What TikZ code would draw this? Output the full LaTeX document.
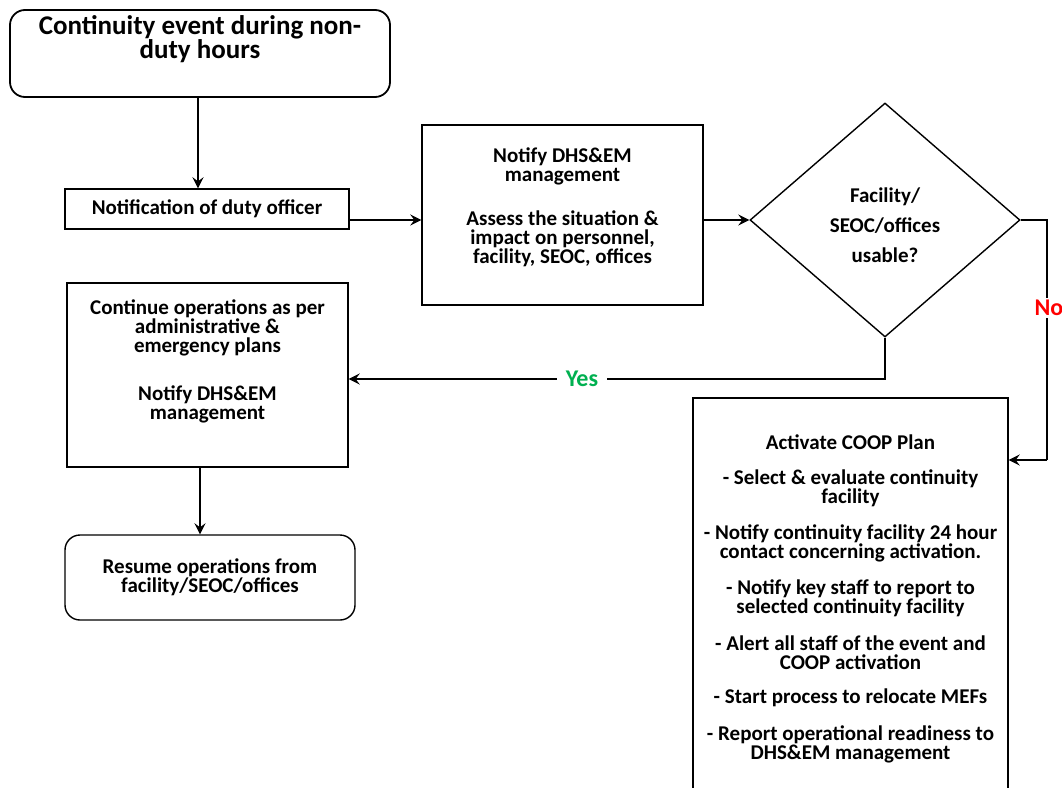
\documentclass[tikz,border=0pt]{standalone}
\usepackage{fontspec}
\setmainfont{Carlito}
\usetikzlibrary{arrows.meta,shapes.geometric}
\definecolor{yesgreen}{RGB}{0,176,80}
\definecolor{nored}{RGB}{255,0,0}
\tikzset{
  box/.style={draw, line width=1.4pt, inner sep=0pt},
  roundbox/.style={box, rounded corners=15pt},
  txt/.style={align=center, font=\fontsize{21}{19}\selectfont\bfseries, inner sep=0pt},
  arr/.style={line width=2.4pt, -{Stealth[length=11pt,width=11pt,inset=4pt]}},
  thinline/.style={line width=1.1pt},
}
\begin{document}
\begin{tikzpicture}[x=1pt,y=-1pt]
\clip (0,0) rectangle (1062,787);
\fill[white] (0,0) rectangle (1062,787);

% boxes
\node[roundbox, line width=1.8pt, minimum width=380, minimum height=87] (title) at (200,53.5) {};
\node[box, minimum width=284, minimum height=40] (notif) at (207,209) {};
\node[box, minimum width=281, minimum height=180] (notify) at (562.5,215) {};
\node[draw, line width=1.4pt, diamond, minimum width=270, minimum height=234, inner sep=0pt] (dia) at (885,220) {};
\node[box, minimum width=281, minimum height=184] (cont) at (207.5,375) {};
\node[roundbox, minimum width=290, minimum height=85] (resume) at (210,577.5) {};
\node[box, minimum width=315, minimum height=402] (coop) at (850.5,599) {};

% texts
\node[txt, font=\fontsize{27}{23}\selectfont\bfseries] (titletxt) at (200,39) {Continuity event during non-\\duty hours};
\node[txt] (notiftxt) at (207,209) {Notification of duty officer};
\node[txt] (notifyA) at (562.5,166) {Notify DHS\&EM\\management};
\node[txt] (notifyB) at (562.5,239) {Assess the situation \&\\impact on personnel,\\facility, SEOC, offices};
\node[txt, font=\fontsize{21}{30}\selectfont\bfseries] (diatxt) at (885,225) {Facility/\\SEOC/offices\\usable?};
\node[txt] (contA) at (207.5,328) {Continue operations as per\\administrative \&\\emergency plans};
\node[txt] (contB) at (207.5,404) {Notify DHS\&EM\\management};
\node[txt] (resumetxt) at (210,577.5) {Resume operations from\\facility/SEOC/offices};
\node[txt] (coop0) at (850.5,442) {Activate COOP Plan};
\node[txt] (coop1) at (850.5,488.5) {- Select \& evaluate continuity\\facility};
\node[txt] (coop2) at (850.5,543) {- Notify continuity facility 24 hour\\contact concerning activation.};
\node[txt] (coop3) at (850.5,598) {- Notify key staff to report to\\selected continuity facility};
\node[txt] (coop4) at (850.5,652.5) {- Alert all staff of the event and\\COOP activation};
\node[txt] (coop5) at (850.5,698) {- Start process to relocate MEFs};
\node[txt] (coop6) at (850.5,744.5) {- Report operational readiness to\\DHS\&EM management};

% routing points
\coordinate (colA) at (198,0);
\coordinate (row) at (0,220);
\coordinate (nocorner) at (1047,460);
\coordinate (colB) at (200,0);

% connectors
\draw[arr] (title.south -| colA) -- (notif.north -| colA);
\draw[arr] (notif.east |- row) -- (notify.west |- row);
\draw[arr] (notify.east |- dia.west) -- (dia.west);
\draw[thinline] (dia.east) -| (nocorner);
\draw[arr, line width=1.8pt] (nocorner) -- (coop.east |- nocorner);
\node[txt, fill=white, inner sep=2pt, text=nored, font=\fontsize{24}{24}\selectfont\bfseries] (no) at (1049,308) {No};
\node[txt, inner xsep=9pt, text=yesgreen, font=\fontsize{24}{24}\selectfont\bfseries] (yes) at (582,379) {Yes};
\draw[thinline] (dia.south) |- (yes.east);
\draw[arr] (yes.west) -- (cont.east |- yes.west);
\draw[arr] (cont.south -| colB) -- (resume.north -| colB);
\end{tikzpicture}
\end{document}
